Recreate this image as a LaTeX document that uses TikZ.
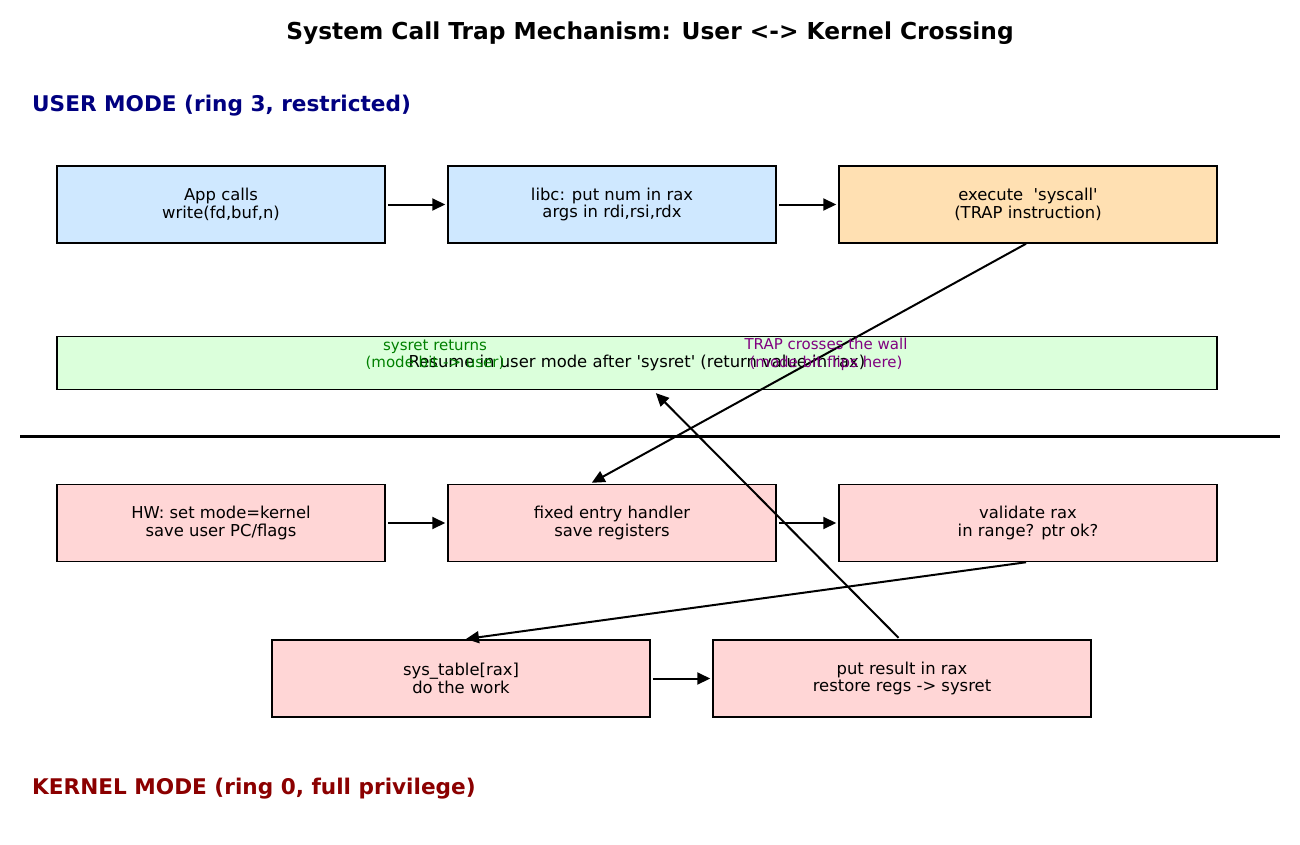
\documentclass[tikz,border=0pt]{standalone}
\usepackage{fontspec}
\setmainfont{DejaVu Sans}
\usetikzlibrary{arrows.meta,calc}
\definecolor{ublue}{HTML}{CFE8FF}
\definecolor{uorange}{HTML}{FFE0B2}
\definecolor{ugreen}{HTML}{DBFFDB}
\definecolor{kred}{HTML}{FFD6D6}
\definecolor{navyc}{HTML}{000080}
\definecolor{dred}{HTML}{8B0000}
\definecolor{lblgreen}{HTML}{008000}
\definecolor{lblpurple}{HTML}{800080}
\tikzset{
  box/.style={draw=black,line width=1.5pt,minimum height=77pt,align=center,inner sep=0pt,
    font=\fontsize{16.4}{17.5}\selectfont},
  ubox/.style={box,fill=ublue,minimum width=328pt},
  obox/.style={box,fill=uorange,minimum width=378pt},
  kbox/.style={box,fill=kred,minimum width=328pt},
  kwbox/.style={box,fill=kred,minimum width=378pt},
  arr/.style={-{Stealth[length=13pt,width=12pt,inset=0pt]},line width=2pt},
  head/.style={anchor=west,inner sep=0pt,font=\fontsize{21.6}{24}\selectfont\bfseries},
  lbl/.style={align=center,font=\fontsize{15}{17.5}\selectfont}
}
\begin{document}
\begin{tikzpicture}[x=1pt,y=-1pt]
\useasboundingbox (0,0) rectangle (1300,845);
\node[font=\fontsize{23.3}{26}\selectfont\bfseries] (title) at (650,33) {System Call Trap Mechanism: User <-> Kernel Crossing};
\node[head,text=navyc] (uhead) at (32,106) {USER MODE (ring 3, restricted)};
\node[head,text=dred] (khead) at (32,789) {KERNEL MODE (ring 0, full privilege)};

\node[ubox] (A) at (221,204.5) {App calls\\write(fd,buf,n)};
\node[ubox] (B) at (612,204.5) {libc: put num in rax\\args in rdi,rsi,rdx};
\node[obox] (C) at (1028,204.5) {execute \ \textquotesingle syscall\textquotesingle\\(TRAP instruction)};

\node[box,fill=ugreen,minimum width=1160pt,minimum height=53pt] (R) at (637,363) {Resume in user mode after \textquotesingle sysret\textquotesingle\ (return value in rax)};

\coordinate (wl) at (20,436);
\coordinate (wr) at (1280,436);
\draw[line width=3pt] (wl) -- (wr);

\node[kbox] (D) at (221,523) {HW: set mode=kernel\\save user PC/flags};
\node[kbox] (E) at (612,523) {fixed entry handler\\save registers};
\node[kwbox] (F) at (1028,523) {validate rax\\in range? ptr ok?};
\node[kwbox] (G) at (461,678.5) {sys\_table[rax]\\do the work};
\node[kwbox] (H) at (902,678.5) {put result in rax\\restore regs -> sysret};

\draw[arr,shorten <=2pt,shorten >=2pt] (A.east) -- (B.west);
\draw[arr,shorten <=2pt,shorten >=2pt] (B.east) -- (C.west);
\draw[arr,shorten <=2pt,shorten >=2pt] (D.east) -- (E.west);
\draw[arr,shorten <=2pt,shorten >=2pt] (E.east) -- (F.west);
\draw[arr,shorten <=2pt,shorten >=2pt] (G.east) -- (H.west);
\draw[arr,shorten >=2pt] ([xshift=-2pt]C.south) -- ([xshift=-22pt]E.north);
\draw[arr,shorten >=2pt] ([xshift=-2pt]F.south) -- ([xshift=3pt]G.north);
\draw[arr,shorten <=2pt,shorten >=4pt] ([xshift=-2pt]H.north) -- ([xshift=16pt]R.south);

\node[lbl,text=lblgreen] (l1) at (435,354.5) {sysret returns\\(mode bit -> user)};
\node[lbl,text=lblpurple] (l2) at (826,354.5) {TRAP crosses the wall\\(mode bit flips here)};
\end{tikzpicture}
\end{document}
